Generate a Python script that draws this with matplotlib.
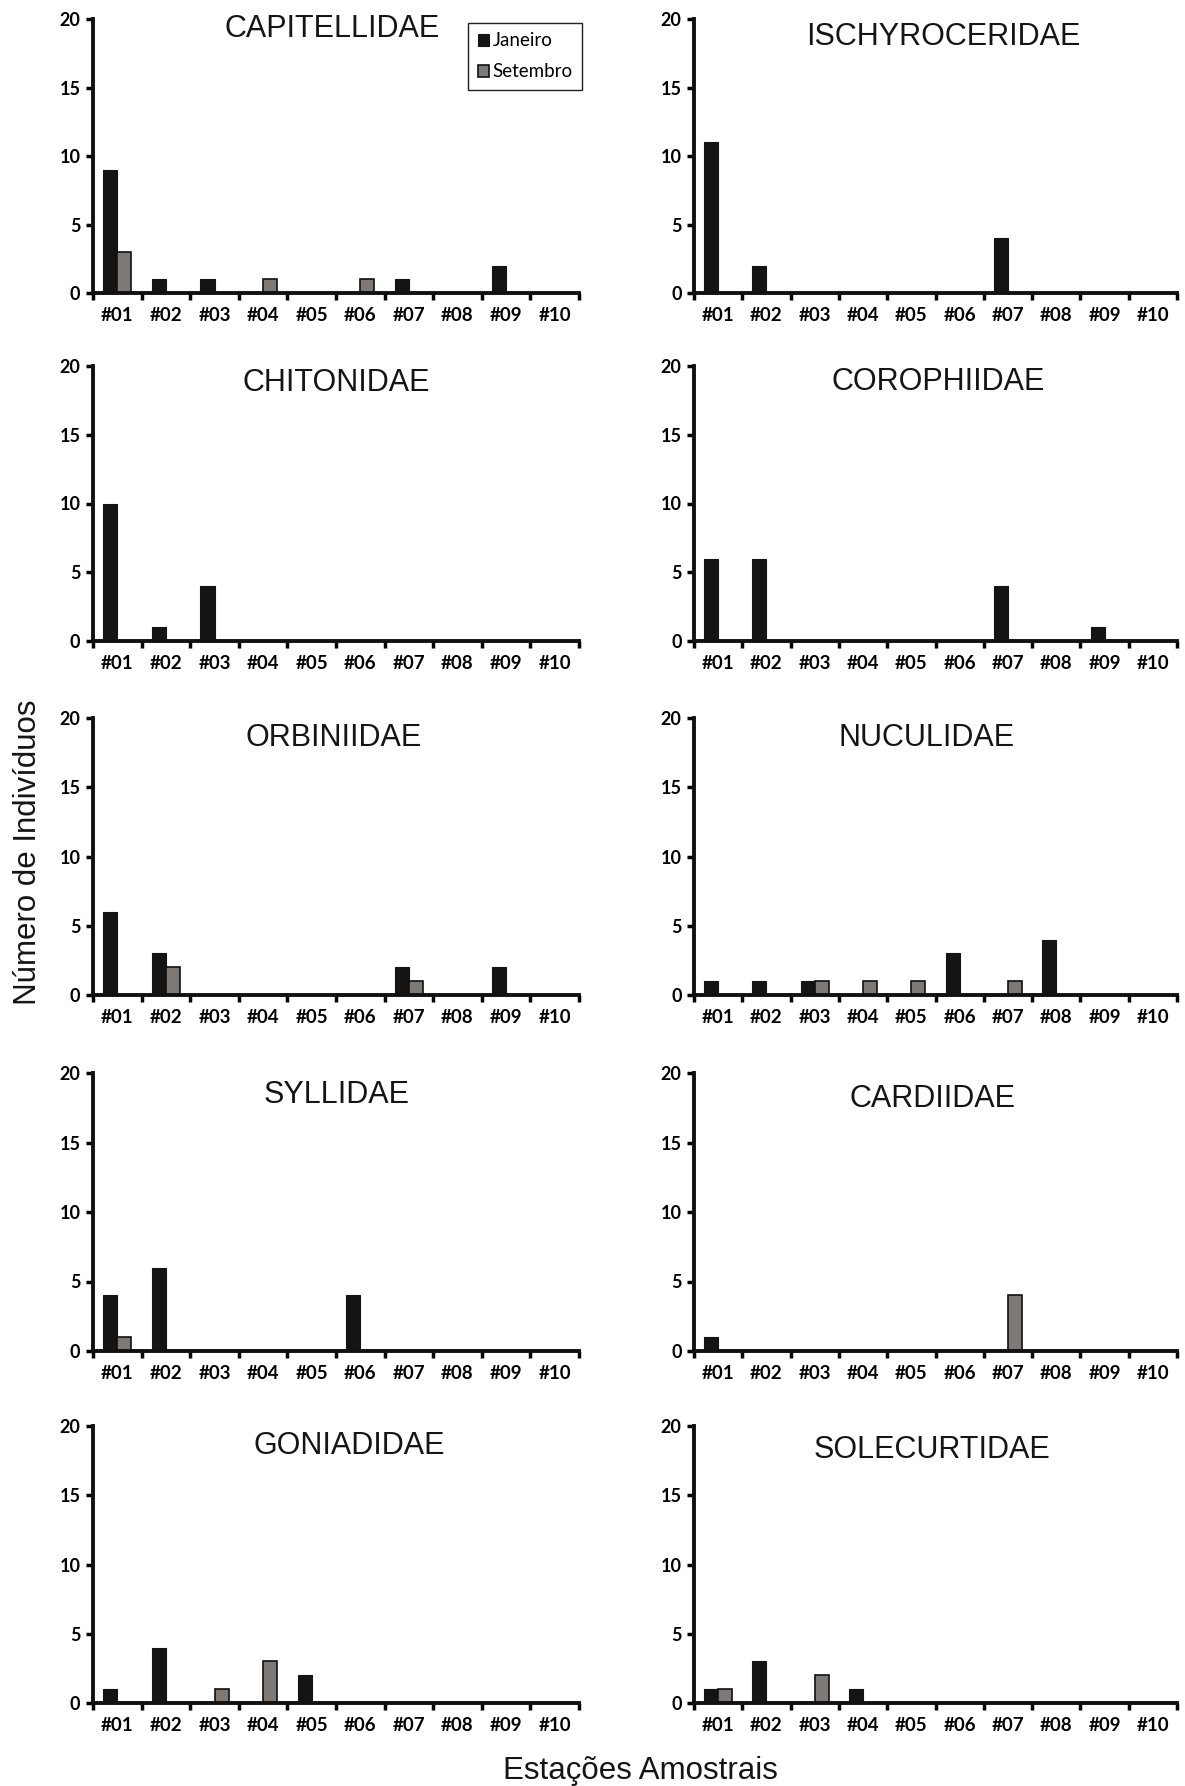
import matplotlib.pyplot as plt
import numpy as np

# stations on the x axis
stations = ['#01', '#02', '#03', '#04', '#05', '#06', '#07', '#08', '#09', '#10']

# families, in reading order (left, right, next row ...)
families = ['CAPITELLIDAE', 'ISCHYROCERIDAE', 'CHITONIDAE', 'COROPHIIDAE',
            'ORBINIIDAE', 'NUCULIDAE', 'SYLLIDAE', 'CARDIIDAE',
            'GONIADIDAE', 'SOLECURTIDAE']

# number of individuals in January
janeiro = [
    [9, 1, 1, 0, 0, 0, 1, 0, 2, 0],
    [11, 2, 0, 0, 0, 0, 4, 0, 0, 0],
    [10, 1, 4, 0, 0, 0, 0, 0, 0, 0],
    [6, 6, 0, 0, 0, 0, 4, 0, 1, 0],
    [6, 3, 0, 0, 0, 0, 2, 0, 2, 0],
    [1, 1, 1, 0, 0, 3, 0, 4, 0, 0],
    [4, 6, 0, 0, 0, 4, 0, 0, 0, 0],
    [1, 0, 0, 0, 0, 0, 0, 0, 0, 0],
    [1, 4, 0, 0, 2, 0, 0, 0, 0, 0],
    [1, 3, 0, 1, 0, 0, 0, 0, 0, 0],
]

# number of individuals in September
setembro = [
    [3, 0, 0, 1, 0, 1, 0, 0, 0, 0],
    [0, 0, 0, 0, 0, 0, 0, 0, 0, 0],
    [0, 0, 0, 0, 0, 0, 0, 0, 0, 0],
    [0, 0, 0, 0, 0, 0, 0, 0, 0, 0],
    [0, 2, 0, 0, 0, 0, 1, 0, 0, 0],
    [0, 0, 1, 1, 1, 0, 1, 0, 0, 0],
    [1, 0, 0, 0, 0, 0, 0, 0, 0, 0],
    [0, 0, 0, 0, 0, 0, 4, 0, 0, 0],
    [0, 0, 1, 3, 0, 0, 0, 0, 0, 0],
    [1, 0, 2, 0, 0, 0, 0, 0, 0, 0],
]

W, H = 1185, 1786
fig = plt.figure(figsize=(W / 100, H / 100), dpi=100)

# axes boxes in pixels: (left, right) per column, (top, zero line) per row
cols = [(93, 579), (694, 1177)]
rows = [(19, 293), (366, 641), (718, 995), (1073, 1351), (1426, 1703)]
# where each panel's name sits, in axes fractions
title_x = [0.493, 0.517, 0.50, 0.505, 0.495, 0.481, 0.502, 0.493, 0.528, 0.493]
title_y = [0.962, 0.934, 0.938, 0.942, 0.927, 0.927, 0.922, 0.906, 0.926, 0.915]

x = np.arange(len(stations))
bw = 0.29

for i, fam in enumerate(families):
    r, c = divmod(i, 2)
    x0, x1 = cols[c]
    y0, y1 = rows[r]
    ax = fig.add_axes([x0 / W, 1 - y1 / H, (x1 - x0) / W, (y1 - y0) / H])

    ax.bar(x - bw / 2, janeiro[i], bw, color='#141414', edgecolor='#141414',
           linewidth=0.8, label='Janeiro')
    ax.bar(x + bw / 2, setembro[i], bw, color='#7d7976', edgecolor='#111111',
           linewidth=1.2, label='Setembro')

    ax.set_xlim(-0.5, len(stations) - 0.5)
    ax.set_ylim(0, 20)
    ax.set_yticks([0, 5, 10, 15, 20])
    ax.set_xticks(x)
    ax.set_xticklabels(stations, fontfamily='Lato', fontweight='bold', fontsize=13.5)
    ax.set_xticks(np.arange(len(stations) + 1) - 0.5, minor=True)
    ax.tick_params(axis='x', which='major', length=0, pad=10)
    ax.tick_params(axis='x', which='minor', length=5, width=2.5, direction='out')
    ax.tick_params(axis='y', length=5, width=2.5, direction='out', pad=4)
    for lab in ax.get_yticklabels():
        lab.set_fontfamily('Lato')
        lab.set_fontweight('bold')
        lab.set_fontsize(13)

    for s in ['top', 'right']:
        ax.spines[s].set_visible(False)
    for s in ['left', 'bottom']:
        ax.spines[s].set_linewidth(2.8)
        ax.spines[s].set_color('#111111')
    ax.patch.set_visible(False)

    ax.text(title_x[i], title_y[i], fam, transform=ax.transAxes, ha='center',
            va='center', fontsize=22, fontfamily='Liberation Sans', color='#151515')

    if i == 0:
        leg = ax.legend(loc='upper right', bbox_to_anchor=(1.026, 1.02),
                        prop={'family': 'Lato', 'size': 13.5},
                        handlelength=0.6, handleheight=0.6, handletextpad=0.2,
                        labelspacing=0.75, borderpad=0.5, fancybox=False,
                        framealpha=1)
        leg.get_frame().set_edgecolor('#222222')
        leg.get_frame().set_linewidth(1.0)

fig.text(28 / W, 1 - 852 / H, 'Número de Indivíduos', rotation=90,
         ha='center', va='center', fontsize=22.5, fontfamily='Liberation Sans',
         color='#151515')
fig.text(640 / W, 1 - 1771 / H, 'Estações Amostrais', ha='center',
         va='center', fontsize=22.5, fontfamily='Liberation Sans', color='#151515')

fig.savefig('out.png', dpi=100)
